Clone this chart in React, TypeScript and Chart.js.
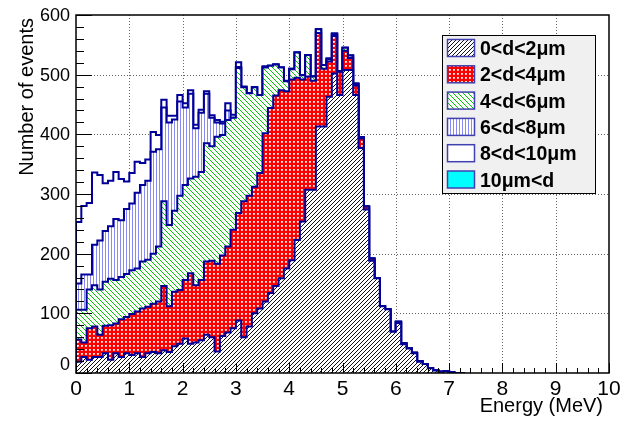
import React, { useEffect, useRef } from 'react';
import { Chart, registerables } from 'chart.js';

Chart.register(...registerables);

// Energy bins are 0.1 MeV wide, starting at 0 MeV.
const BIN_WIDTH_MEV = 0.1;

// Stacked (cumulative) number of events per bin.
const stackTo2um = [
  19, 27, 22, 27, 27, 33, 22, 33, 27, 33,
  30, 33, 27, 33, 35, 33, 38, 35, 45, 49,
  58, 49, 51, 55, 64, 60, 36, 62, 68, 75,
  88, 60, 78, 100, 108, 120, 134, 146, 159, 175,
  189, 223, 254, 307, 307, 413, 413, 463, 502, 466,
  508, 508, 466, 377, 274, 188, 159, 112, 107, 69,
  84, 48, 41, 33, 19, 15, 8, 4, 2, 3,
  1, 0, 0,
];
const stackTo4um = [
  56, 51, 75, 78, 64, 79, 80, 83, 90, 94,
  99, 103, 108, 111, 116, 120, 146, 112, 136, 139,
  156, 167, 147, 156, 187, 188, 183, 197, 212, 240,
  268, 288, 297, 312, 335, 402, 444, 465, 474, 472,
  492, 495, 492, 497, 490, 570, 510, 522, 565, 505,
  540, 528, 482, 393, 279, 192, 159, 112, 107, 69,
  86, 50, 41, 34, 20, 15, 8, 4, 2, 3,
  1, 0, 0,
];
const stackTo6um = [
  106, 106, 140, 147, 140, 153, 158, 156, 161, 166,
  172, 175, 187, 190, 200, 212, 288, 248, 272, 297,
  315, 326, 329, 337, 385, 380, 396, 399, 424, 428,
  511, 479, 469, 479, 466, 512, 515, 517, 512, 489,
  509, 537, 499, 533, 497, 576, 516, 526, 568, 506,
  545, 532, 484, 395, 279, 192, 159, 112, 107, 69,
  86, 50, 41, 34, 20, 15, 8, 4, 2, 3,
  1, 0, 0,
];
const stackTo8um = [
  150, 165, 165, 215, 222, 238, 246, 258, 256, 275,
  284, 302, 315, 322, 371, 375, 445, 420, 425, 455,
  445, 468, 410, 436, 468, 428, 420, 418, 440, 428,
  513, 479, 469, 479, 466, 513, 515, 517, 512, 489,
  510, 537, 499, 533, 497, 576, 516, 527, 569, 506,
  545, 532, 485, 395, 279, 192, 159, 112, 107, 69,
  86, 50, 41, 34, 20, 15, 8, 4, 2, 3,
  1, 0, 0,
];
const stackTo10um = [
  253, 280, 285, 336, 332, 318, 322, 337, 325, 321,
  335, 354, 352, 358, 404, 399, 458, 431, 431, 466,
  452, 474, 416, 441, 472, 432, 424, 421, 452, 433,
  521, 480, 469, 479, 466, 514, 515, 517, 512, 490,
  510, 537, 499, 533, 497, 576, 516, 527, 569, 506,
  545, 532, 485, 395, 279, 192, 159, 112, 107, 69,
  86, 50, 41, 34, 20, 15, 8, 4, 2, 3,
  1, 0, 0,
];

const legendLabels = ['0<d<2\u03bcm', '2<d<4\u03bcm', '4<d<6\u03bcm', '6<d<8\u03bcm', '8<d<10\u03bcm', '10\u03bcm<d'];
const xTickLabels = ['0', '1', '2', '3', '4', '5', '6', '7', '8', '9', '10'];
const yTickLabels = ['0', '100', '200', '300', '400', '500', '600'];
const xAxisTitle = 'Energy (MeV)';
const yAxisTitle = 'Number of events';

const FONT = '"Liberation Sans", Arial, Helvetica, sans-serif';
const OUTLINE = '#000099';

function makeTile(size: number, bg: string, paint: (x: number, y: number) => string | null) {
  const c = document.createElement('canvas');
  c.width = size;
  c.height = size;
  const g = c.getContext('2d')!;
  g.fillStyle = bg;
  g.fillRect(0, 0, size, size);
  for (let yy = 0; yy < size; yy++) {
    for (let xx = 0; xx < size; xx++) {
      const col = paint(xx, yy);
      if (col) {
        g.fillStyle = col;
        g.fillRect(xx, yy, 1, 1);
      }
    }
  }
  return c;
}

function stepPoints(levels: number[]) {
  const pts: { x: number; y: number }[] = [{ x: 0, y: 0 }];
  levels.forEach((v, i) => pts.push({ x: +(i * BIN_WIDTH_MEV).toFixed(3), y: v }));
  pts.push({ x: +(levels.length * BIN_WIDTH_MEV).toFixed(3), y: 0 });
  return pts;
}

export default function App() {
  const ref = useRef<HTMLCanvasElement>(null);

  useEffect(() => {
    const canvas = ref.current!;
    const ctx0 = canvas.getContext('2d')!;

    const redDot = (x: number, y: number) => {
      if (x === 1 && y === 1) return '#ffffff';
      if ((x === 2 && y === 1) || (x === 1 && y === 2)) return '#ffd4d4';
      if (x === 2 && y === 2) return '#ff9a9a';
      return null;
    };

    const fills: (string | CanvasPattern)[] = [
      ctx0.createPattern(makeTile(4, '#ffffff', (x, y) => ((x + y) % 4 === 3 ? '#111111' : null)), 'repeat')!,
      ctx0.createPattern(makeTile(4, '#ff0000', redDot), 'repeat')!,
      ctx0.createPattern(makeTile(5, '#ffffff', (x, y) => ((x - y + 5) % 5 === 0 ? '#00c800' : null)), 'repeat')!,
      ctx0.createPattern(makeTile(3, '#ffffff', (x) => (x === 0 ? '#8a8af4' : null)), 'repeat')!,
      '#ffffff',
      '#00ffff',
    ];

    const levels = [stackTo2um, stackTo4um, stackTo6um, stackTo8um, stackTo10um];

    const rootStyle = {
      id: 'rootStyle',
      beforeDatasetsDraw(chart: any) {
        const { ctx, chartArea: a, scales } = chart;
        const xs = scales.x;
        const ys = scales.y;
        ctx.save();
        ctx.strokeStyle = 'rgba(0,0,0,0.6)';
        ctx.lineWidth = 1;
        ctx.setLineDash([1, 2]);
        xTickLabels.slice(1, -1).forEach((t) => {
          const px = Math.round(xs.getPixelForValue(Number(t))) + 0.5;
          ctx.beginPath();
          ctx.moveTo(px, a.top);
          ctx.lineTo(px, a.bottom);
          ctx.stroke();
        });
        yTickLabels.slice(1, -1).forEach((t) => {
          const py = Math.round(ys.getPixelForValue(Number(t))) + 0.5;
          ctx.beginPath();
          ctx.moveTo(a.left, py);
          ctx.lineTo(a.right, py);
          ctx.stroke();
        });
        ctx.restore();
      },
      afterDatasetsDraw(chart: any) {
        const { ctx, chartArea: a, scales } = chart;
        const xs = scales.x;
        const ys = scales.y;
        ctx.save();
        // frame
        ctx.strokeStyle = '#000';
        ctx.lineWidth = 1.5;
        ctx.strokeRect(a.left, a.top, a.right - a.left, a.bottom - a.top);
        // ticks (inside, ROOT style)
        ctx.lineWidth = 1;
        ctx.beginPath();
        for (let v = 0; v <= 600.001; v += 20) {
          const py = Math.round(ys.getPixelForValue(v)) + 0.5;
          const len = Math.abs(v % 100) < 0.001 ? 16 : 8;
          ctx.moveTo(a.left, py);
          ctx.lineTo(a.left + len, py);
        }
        for (let k = 0; k <= 50; k++) {
          const v = k * 0.2;
          const px = Math.round(xs.getPixelForValue(v)) + 0.5;
          const len = k % 5 === 0 ? 10 : 5;
          ctx.moveTo(px, a.bottom);
          ctx.lineTo(px, a.bottom - len);
        }
        ctx.stroke();
        // tick labels
        ctx.fillStyle = '#000';
        ctx.font = `18px ${FONT}`;
        ctx.textAlign = 'right';
        ctx.textBaseline = 'middle';
        yTickLabels.forEach((t) => {
          const v = Number(t);
          const py = ys.getPixelForValue(v) + (v === 0 ? -8 : 1);
          ctx.fillText(t, a.left - 6, py);
        });
        ctx.font = `21px ${FONT}`;
        ctx.textAlign = 'center';
        ctx.textBaseline = 'alphabetic';
        xTickLabels.forEach((t) => {
          ctx.fillText(t, xs.getPixelForValue(Number(t)), 395);
        });
        // axis titles
        ctx.font = `20px ${FONT}`;
        ctx.textAlign = 'right';
        ctx.fillText(xAxisTitle, 603, 412);
        ctx.save();
        ctx.translate(33, 18);
        ctx.rotate(-Math.PI / 2);
        ctx.textAlign = 'right';
        ctx.fillText(yAxisTitle, 0, 0);
        ctx.restore();
        // legend
        const lx = 442, ly = 35, lw = 153, lh = 158;
        ctx.fillStyle = '#f0f0f0';
        ctx.fillRect(lx, ly, lw, lh);
        ctx.strokeStyle = '#000';
        ctx.lineWidth = 1;
        ctx.strokeRect(lx + 0.5, ly + 0.5, lw, lh);
        legendLabels.forEach((label, i) => {
          const cy = 48 + i * 26.3;
          ctx.fillStyle = fills[i] as any;
          ctx.fillRect(447.5, cy - 8.5, 27, 17);
          ctx.strokeStyle = '#4040b0';
          ctx.lineWidth = 1.5;
          ctx.strokeRect(447.5, cy - 8.5, 27, 17);
          ctx.fillStyle = '#000';
          ctx.font = `bold 19.5px ${FONT}`;
          ctx.textAlign = 'left';
          ctx.textBaseline = 'alphabetic';
          ctx.fillText(label, 480, cy + 7);
        });
        ctx.restore();
      },
    };

    const datasets = levels.map((lv, i) => ({
      label: legendLabels[i],
      data: stepPoints(lv),
      stepped: true as const,
      fill: 'origin' as const,
      backgroundColor: fills[i] as any,
      borderColor: OUTLINE,
      borderWidth: 2,
      pointRadius: 0,
      tension: 0,
    }));

    const chart = new Chart(canvas, {
      type: 'line',
      data: { datasets },
      options: {
        responsive: false,
        animation: false,
        devicePixelRatio: 1,
        events: [],
        layout: { padding: { left: 0, right: 34, top: 15, bottom: 0 } },
        plugins: {
          legend: { display: false },
          tooltip: { enabled: false },
          title: { display: false },
        },
        scales: {
          x: {
            type: 'linear',
            min: 0,
            max: 10,
            afterFit: (s: any) => { s.height = 48; },
            ticks: { display: false, stepSize: 1 },
            grid: { display: false },
            border: { display: false },
          },
          y: {
            type: 'linear',
            min: 0,
            max: 600,
            afterFit: (s: any) => { s.width = 76; },
            ticks: { display: false, stepSize: 100 },
            grid: { display: false },
            border: { display: false },
          },
        },
      },
      plugins: [rootStyle],
    });

    return () => chart.destroy();
  }, []);

  return (
    <div style={{ position: 'fixed', left: 0, top: 0, width: 643, height: 421, background: '#fff' }}>
      <canvas ref={ref} width={643} height={421} style={{ display: 'block', width: 643, height: 421 }} />
    </div>
  );
}
